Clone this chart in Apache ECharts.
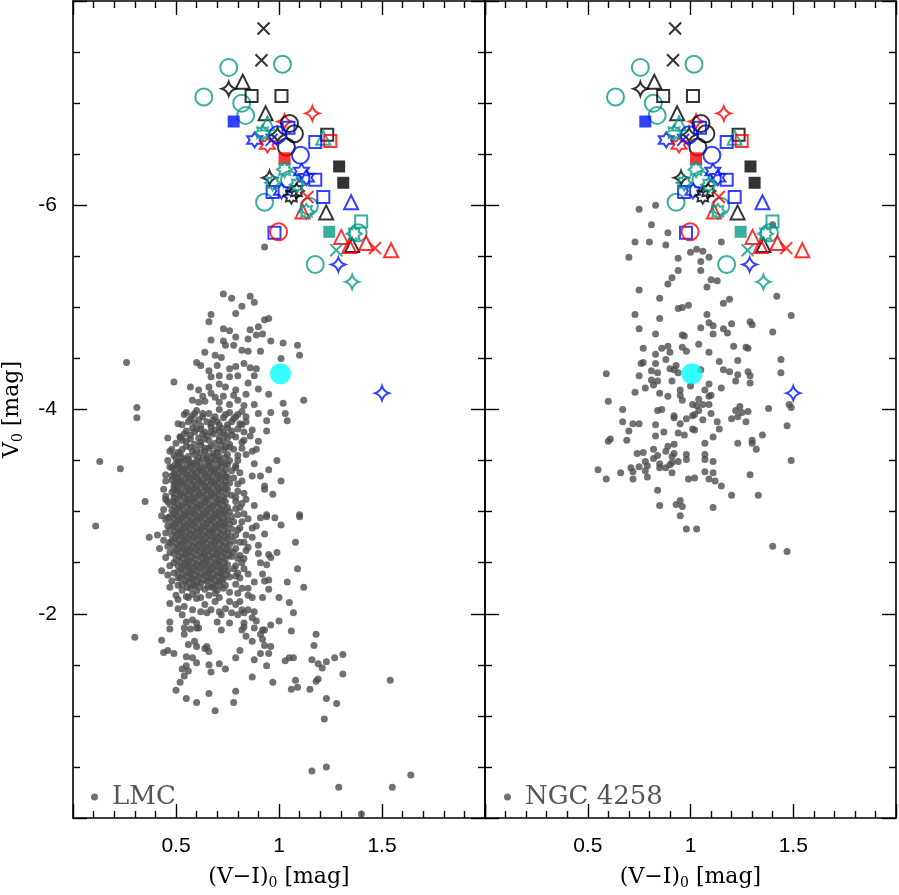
<!DOCTYPE html>
<html>
<head>
<meta charset="utf-8">
<script src="https://cdn.jsdelivr.net/npm/echarts@6/dist/echarts.min.js"></script>
<style>
  html, body { margin: 0; padding: 0; background: #fff; }
  #chart { width: 899px; height: 895px; }
</style>
</head>
<body>
<div id="chart"></div>
<script>
// tick labels
const xTickLabels = [0.5, 1, 1.5]
const yTickLabels = [-6, -4, -2]

// LMC stars, dense core of the cloud
const lmcCore = [
  [0.55,-3.97],[0.60,-3.99],[0.66,-3.96],[0.71,-4.00],[0.76,-3.97],[0.80,-3.95],
  [0.57,-3.91],[0.63,-3.93],[0.68,-3.90],[0.73,-3.92],[0.78,-3.91],[0.84,-3.93],
  [0.53,-3.85],[0.59,-3.87],[0.62,-3.84],[0.67,-3.86],[0.70,-3.88],[0.75,-3.85],[0.81,-3.86],
  [0.55,-3.79],[0.60,-3.81],[0.64,-3.78],[0.69,-3.80],[0.72,-3.82],[0.77,-3.79],[0.80,-3.81],
  [0.52,-3.73],[0.57,-3.75],[0.61,-3.72],[0.65,-3.74],[0.68,-3.76],[0.71,-3.73],[0.74,-3.75],[0.79,-3.73],
  [0.50,-3.67],[0.55,-3.69],[0.59,-3.66],[0.62,-3.68],[0.66,-3.70],[0.69,-3.67],[0.73,-3.69],[0.76,-3.66],[0.82,-3.68],
  [0.53,-3.61],[0.57,-3.63],[0.60,-3.60],[0.64,-3.62],[0.67,-3.64],[0.70,-3.61],[0.74,-3.63],[0.78,-3.61],
  [0.49,-3.55],[0.52,-3.57],[0.56,-3.54],[0.59,-3.56],[0.62,-3.58],[0.65,-3.55],[0.68,-3.57],[0.71,-3.54],[0.75,-3.56],[0.80,-3.55],
  [0.51,-3.49],[0.54,-3.51],[0.57,-3.48],[0.60,-3.50],[0.63,-3.52],[0.66,-3.49],[0.69,-3.51],[0.72,-3.48],[0.76,-3.50],
  [0.48,-3.43],[0.51,-3.45],[0.54,-3.42],[0.57,-3.44],[0.60,-3.46],[0.63,-3.43],[0.66,-3.45],[0.69,-3.42],[0.72,-3.44],[0.75,-3.46],[0.79,-3.43],
  [0.49,-3.37],[0.52,-3.39],[0.55,-3.36],[0.58,-3.38],[0.61,-3.40],[0.64,-3.37],[0.67,-3.39],[0.70,-3.36],[0.73,-3.38],[0.77,-3.40],
  [0.48,-3.31],[0.51,-3.33],[0.54,-3.30],[0.57,-3.32],[0.60,-3.34],[0.63,-3.31],[0.66,-3.33],[0.69,-3.30],[0.72,-3.32],[0.75,-3.34],
  [0.49,-3.25],[0.52,-3.27],[0.55,-3.24],[0.58,-3.26],[0.61,-3.28],[0.64,-3.25],[0.67,-3.27],[0.70,-3.24],[0.73,-3.26],[0.76,-3.28],
  [0.48,-3.19],[0.51,-3.21],[0.54,-3.18],[0.57,-3.20],[0.60,-3.22],[0.63,-3.19],[0.66,-3.21],[0.69,-3.18],[0.72,-3.20],[0.75,-3.22],
  [0.49,-3.13],[0.52,-3.15],[0.55,-3.12],[0.58,-3.14],[0.61,-3.16],[0.64,-3.13],[0.67,-3.15],[0.70,-3.12],[0.73,-3.14],[0.77,-3.16],
  [0.47,-3.07],[0.50,-3.09],[0.53,-3.06],[0.56,-3.08],[0.59,-3.10],[0.62,-3.07],[0.65,-3.09],[0.68,-3.06],[0.71,-3.08],[0.74,-3.10],
  [0.48,-3.01],[0.51,-3.03],[0.54,-3.00],[0.57,-3.02],[0.60,-3.04],[0.63,-3.01],[0.66,-3.03],[0.69,-3.00],[0.72,-3.02],[0.75,-3.04],
  [0.47,-2.95],[0.50,-2.97],[0.53,-2.94],[0.56,-2.96],[0.59,-2.98],[0.62,-2.95],[0.65,-2.97],[0.68,-2.94],[0.71,-2.96],[0.74,-2.98],[0.77,-2.95],
  [0.48,-2.89],[0.51,-2.91],[0.54,-2.88],[0.57,-2.90],[0.60,-2.92],[0.63,-2.89],[0.66,-2.91],[0.69,-2.88],[0.72,-2.90],[0.75,-2.92],
  [0.47,-2.83],[0.50,-2.85],[0.53,-2.82],[0.56,-2.84],[0.59,-2.86],[0.62,-2.83],[0.65,-2.85],[0.68,-2.82],[0.71,-2.84],[0.74,-2.86],[0.77,-2.83],
  [0.48,-2.77],[0.51,-2.79],[0.54,-2.76],[0.57,-2.78],[0.60,-2.80],[0.63,-2.77],[0.66,-2.79],[0.69,-2.76],[0.72,-2.78],[0.75,-2.80],
  [0.48,-2.71],[0.51,-2.73],[0.54,-2.70],[0.57,-2.72],[0.60,-2.74],[0.63,-2.71],[0.66,-2.73],[0.69,-2.70],[0.72,-2.72],[0.75,-2.74],[0.78,-2.71],
  [0.49,-2.65],[0.52,-2.67],[0.55,-2.64],[0.58,-2.66],[0.61,-2.68],[0.64,-2.65],[0.67,-2.67],[0.70,-2.64],[0.73,-2.66],[0.76,-2.68],
  [0.49,-2.59],[0.52,-2.61],[0.55,-2.58],[0.58,-2.60],[0.61,-2.62],[0.64,-2.59],[0.67,-2.61],[0.70,-2.58],[0.73,-2.60],[0.76,-2.62],
  [0.50,-2.53],[0.53,-2.55],[0.56,-2.52],[0.59,-2.54],[0.62,-2.56],[0.65,-2.53],[0.68,-2.55],[0.71,-2.52],[0.74,-2.54],[0.77,-2.56],
  [0.51,-2.47],[0.54,-2.49],[0.57,-2.46],[0.60,-2.48],[0.63,-2.50],[0.66,-2.47],[0.69,-2.49],[0.72,-2.46],[0.75,-2.48],
  [0.51,-2.41],[0.54,-2.43],[0.57,-2.40],[0.60,-2.42],[0.63,-2.44],[0.66,-2.41],[0.69,-2.43],[0.72,-2.40],[0.75,-2.42],
  [0.52,-2.35],[0.55,-2.37],[0.58,-2.34],[0.61,-2.36],[0.64,-2.38],[0.67,-2.35],[0.70,-2.37],[0.73,-2.34],[0.76,-2.36],
  [0.53,-2.29],[0.56,-2.31],[0.59,-2.28],[0.62,-2.30],[0.65,-2.32],[0.68,-2.29],[0.71,-2.31],[0.74,-2.28],
  [0.53,-2.23],[0.57,-2.25],[0.60,-2.22],[0.64,-2.24],[0.67,-2.26],[0.70,-2.23],[0.73,-2.25],
  [0.55,-2.17],[0.58,-2.19],[0.62,-2.16],[0.66,-2.18],[0.69,-2.20]
]

// LMC stars filling the gaps between the core rows
const lmcCoreFill = [
  [0.58,-3.94],[0.63,-3.96],[0.69,-3.93],[0.74,-3.95],[0.79,-3.93],
  [0.56,-3.88],[0.61,-3.90],[0.65,-3.88],[0.71,-3.85],[0.77,-3.88],
  [0.58,-3.82],[0.62,-3.81],[0.67,-3.83],[0.71,-3.79],[0.75,-3.82],
  [0.54,-3.76],[0.59,-3.78],[0.63,-3.76],[0.67,-3.78],[0.73,-3.77],[0.77,-3.75],
  [0.53,-3.70],[0.57,-3.71],[0.64,-3.71],[0.71,-3.70],[0.75,-3.72],
  [0.55,-3.64],[0.62,-3.65],[0.66,-3.62],[0.72,-3.65],[0.76,-3.63],
  [0.51,-3.58],[0.58,-3.59],[0.64,-3.59],[0.70,-3.58],[0.73,-3.60],
  [0.50,-3.52],[0.53,-3.53],[0.56,-3.51],[0.61,-3.53],[0.65,-3.52],[0.68,-3.54],[0.71,-3.51],[0.74,-3.53],
  [0.495,-3.46],[0.525,-3.48],[0.555,-3.46],[0.585,-3.47],[0.615,-3.48],[0.645,-3.46],[0.675,-3.48],[0.705,-3.46],[0.74,-3.47],
  [0.495,-3.40],[0.525,-3.42],[0.555,-3.40],[0.585,-3.41],[0.615,-3.42],[0.645,-3.40],[0.675,-3.42],[0.705,-3.40],[0.74,-3.41],
  [0.50,-3.34],[0.53,-3.36],[0.56,-3.34],[0.59,-3.35],[0.62,-3.36],[0.65,-3.34],[0.68,-3.36],[0.71,-3.34],[0.74,-3.35],
  [0.495,-3.28],[0.525,-3.30],[0.555,-3.28],[0.585,-3.29],[0.615,-3.30],[0.645,-3.28],[0.675,-3.30],[0.705,-3.28],[0.74,-3.29],
  [0.50,-3.22],[0.53,-3.24],[0.56,-3.22],[0.59,-3.23],[0.62,-3.24],[0.65,-3.22],[0.68,-3.24],[0.71,-3.22],[0.74,-3.23],
  [0.495,-3.16],[0.525,-3.18],[0.555,-3.16],[0.585,-3.17],[0.615,-3.18],[0.645,-3.16],[0.675,-3.18],[0.705,-3.16],[0.745,-3.17],
  [0.49,-3.10],[0.52,-3.12],[0.55,-3.10],[0.58,-3.11],[0.61,-3.12],[0.64,-3.10],[0.67,-3.12],[0.70,-3.10],[0.73,-3.11],
  [0.495,-3.04],[0.525,-3.06],[0.555,-3.04],[0.585,-3.05],[0.615,-3.06],[0.645,-3.04],[0.675,-3.06],[0.705,-3.04],[0.735,-3.05],
  [0.49,-2.98],[0.52,-3.00],[0.55,-2.98],[0.58,-2.99],[0.61,-3.00],[0.64,-2.98],[0.67,-3.00],[0.70,-2.98],[0.73,-2.99],[0.76,-3.00],
  [0.495,-2.92],[0.525,-2.94],[0.555,-2.92],[0.585,-2.93],[0.615,-2.94],[0.645,-2.92],[0.675,-2.94],[0.705,-2.92],[0.735,-2.93],
  [0.49,-2.86],[0.52,-2.88],[0.55,-2.86],[0.58,-2.87],[0.61,-2.88],[0.64,-2.86],[0.67,-2.88],[0.70,-2.86],[0.73,-2.87],[0.76,-2.88],
  [0.495,-2.80],[0.525,-2.82],[0.555,-2.80],[0.585,-2.81],[0.615,-2.82],[0.645,-2.80],[0.675,-2.82],[0.705,-2.80],[0.735,-2.81],
  [0.495,-2.74],[0.525,-2.76],[0.555,-2.74],[0.585,-2.75],[0.615,-2.76],[0.645,-2.74],[0.675,-2.76],[0.705,-2.74],[0.735,-2.75],[0.765,-2.76],
  [0.505,-2.68],[0.535,-2.70],[0.565,-2.68],[0.595,-2.69],[0.625,-2.70],[0.655,-2.68],[0.685,-2.70],[0.715,-2.68],[0.745,-2.69],
  [0.505,-2.62],[0.535,-2.64],[0.565,-2.62],[0.595,-2.63],[0.625,-2.64],[0.655,-2.62],[0.685,-2.64],[0.715,-2.62],[0.745,-2.63],
  [0.515,-2.56],[0.545,-2.58],[0.575,-2.56],[0.605,-2.57],[0.635,-2.58],[0.665,-2.56],[0.695,-2.58],[0.725,-2.56],[0.755,-2.57],
  [0.525,-2.50],[0.555,-2.52],[0.585,-2.50],[0.615,-2.51],[0.645,-2.52],[0.675,-2.50],[0.705,-2.52],[0.735,-2.50],
  [0.525,-2.44],[0.555,-2.46],[0.585,-2.44],[0.615,-2.45],[0.645,-2.46],[0.675,-2.44],[0.705,-2.46],[0.735,-2.44],
  [0.535,-2.38],[0.565,-2.40],[0.595,-2.38],[0.625,-2.39],[0.655,-2.40],[0.685,-2.38],[0.715,-2.40],[0.745,-2.38],
  [0.545,-2.32],[0.575,-2.34],[0.605,-2.32],[0.635,-2.33],[0.665,-2.34],[0.695,-2.32],[0.725,-2.34],
  [0.555,-2.26],[0.585,-2.28],[0.615,-2.26],[0.655,-2.27],[0.685,-2.26],[0.715,-2.28]
]

// LMC stars along the ragged edges of the core
const lmcCoreEdge = [
  [0.45,-3.30],[0.44,-3.22],[0.46,-3.10],[0.44,-3.02],[0.45,-2.92],[0.46,-2.86],[0.44,-2.72],[0.46,-2.66],
  [0.45,-2.55],[0.47,-2.47],[0.46,-2.38],[0.48,-2.32],[0.47,-3.44],[0.46,-3.50],
  [0.80,-3.20],[0.79,-3.14],[0.81,-3.04],[0.80,-2.97],[0.82,-2.90],[0.80,-2.82],[0.81,-2.70],[0.79,-2.64],
  [0.80,-2.54],[0.78,-2.44],[0.79,-2.37],[0.84,-3.12],[0.83,-2.98],[0.84,-2.62],[0.83,-2.44],[0.82,-3.30],
  [0.78,-3.33],[0.79,-3.45],[0.82,-3.62],[0.84,-3.88],[0.82,-3.98],[0.86,-3.74]
]

// LMC stars, scattered outside the core
const lmcOuter = [
  [0.73,-5.13],[0.77,-5.09],[0.86,-5.11],[0.88,-5.05],[0.82,-5.01],[0.67,-4.93],[0.79,-4.94],[0.66,-4.86],
  [0.93,-4.88],[0.95,-4.89],[0.73,-4.79],[0.76,-4.77],[0.90,-4.81],[0.86,-4.78],[0.89,-4.73],[0.92,-4.74],
  [0.79,-4.71],[0.85,-4.69],[0.67,-4.68],[0.73,-4.67],[0.96,-4.67],[1.02,-4.65],[1.09,-4.63],[1.10,-4.53],
  [1.01,-4.50],[0.74,-4.63],[0.78,-4.63],[0.82,-4.58],[0.85,-4.57],[0.91,-4.57],[0.64,-4.56],[0.69,-4.53],
  [0.72,-4.51],[0.60,-4.46],[0.62,-4.43],[0.26,-4.46],[0.83,-4.45],[0.86,-4.41],[0.89,-4.40],[0.76,-4.40],
  [0.79,-4.42],[0.70,-4.43],[0.66,-4.38],[0.88,-4.33],[0.67,-4.32],[0.71,-4.33],[0.76,-4.32],[0.80,-4.33],
  [0.49,-4.27],[0.85,-4.26],[0.90,-4.20],[0.57,-4.22],[0.61,-4.19],[0.66,-4.22],[0.71,-4.25],[0.74,-4.22],
  [0.79,-4.19],[0.84,-4.15],[0.95,-4.15],[1.12,-4.09],[1.02,-4.06],[0.58,-4.09],[0.61,-4.07],[0.64,-4.08],
  [0.69,-4.12],[0.71,-4.07],[0.76,-4.05],[0.80,-4.09],[0.83,-4.04],[0.88,-4.05],[0.90,-3.96],[0.96,-3.97],
  [1.03,-3.96],[1.04,-3.89],[0.94,-3.89],[0.94,-3.79],[0.31,-4.02],[0.31,-3.92],[0.54,-3.95],[0.51,-3.86],
  [0.59,-3.96],[0.67,-4.16],[0.73,-4.13],[0.63,-4.13],[0.78,-4.14],
  [0.46,-3.72],[0.52,-3.73],[0.47,-3.59],[0.48,-3.61],[0.51,-3.47],[0.90,-3.69],[0.87,-3.59],[0.83,-3.78],
  [0.82,-3.85],[0.99,-3.50],[0.95,-3.41],[1.01,-3.30],[0.97,-3.17],[0.93,-3.25],[0.87,-3.35],[0.88,-3.47],
  [0.45,-3.36],[0.45,-3.12],[0.35,-3.10],[0.13,-3.49],[0.23,-3.42],[1.10,-2.97],[0.83,-3.18],[0.82,-3.08],
  [0.79,-3.03],[0.88,-3.06],[0.94,-2.97],[0.48,-3.35],[0.51,-3.28],[0.49,-3.22],[0.45,-3.15],[0.83,-3.70],
  [0.87,-3.80],[0.89,-3.61],[0.91,-3.35],[0.93,-3.22],[0.80,-3.27],[0.81,-3.38],[0.80,-3.50],[0.84,-3.56],
  [0.11,-2.86],[0.37,-2.75],[0.41,-2.77],[0.42,-2.64],[0.43,-2.42],[0.47,-2.26],[0.47,-2.10],[0.47,-1.92],
  [0.47,-1.85],[0.30,-1.77],[0.43,-1.74],[0.44,-1.62],[0.46,-1.64],[0.49,-1.61],[0.50,-1.25],[0.55,-1.17],
  [0.60,-1.13],[0.66,-1.22],[0.69,-1.05],[0.78,-1.13],[0.79,-1.24],[0.87,-1.38],[0.52,-1.33],[0.54,-1.39],
  [0.53,-1.46],[0.55,-1.49],[0.56,-1.44],[0.55,-1.58],[0.58,-1.57],[0.60,-1.52],[0.66,-1.50],[0.67,-1.43],
  [0.71,-1.51],[0.74,-1.46],[0.79,-1.57],[0.81,-1.64],[0.88,-1.55],[0.94,-1.49],[0.95,-1.61],[0.91,-1.61],
  [0.93,-1.69],[0.96,-1.68],[0.92,-1.75],[0.91,-1.80],[0.93,-1.84],[0.96,-1.89],[1.00,-1.93],[0.97,-1.33],
  [1.06,-1.83],[1.03,-1.54],[1.05,-1.57],[1.07,-1.57],[1.06,-1.26],[1.08,-1.35],[1.09,-1.28],[1.15,-1.26],
  [1.18,-1.34],[1.19,-1.36],[1.16,-1.55],[1.19,-1.51],[1.21,-1.47],[1.23,-1.53],[1.27,-1.57],[1.31,-1.60],
  [1.31,-1.41],[1.17,-1.69],[1.18,-1.80],[1.23,-1.17],[1.28,-1.12],[1.22,-0.97],[1.54,-1.35],[1.07,-2.01],
  [1.05,-2.11],[1.00,-2.16],[1.12,-2.26],[1.09,-2.44],[1.04,-2.31],[1.08,-2.70],[1.10,-2.95],[1.01,-2.87],
  [0.98,-2.94],[0.94,-2.95],[0.91,-2.94],[0.89,-2.86],[0.93,-2.78],[0.87,-2.75],[0.99,-2.60],[0.96,-2.55],
  [0.95,-2.58],[0.94,-2.48],[0.90,-2.59],[0.90,-2.67],[0.91,-2.50],[0.95,-2.33],[0.93,-2.32],[0.92,-2.39],
  [0.95,-2.24],[0.92,-2.16],[0.88,-2.31],[0.85,-2.39],[0.85,-2.25],[0.87,-2.16],[0.85,-2.18],[0.88,-2.02],
  [0.85,-2.04],[0.89,-1.93],[0.87,-1.96],[0.92,-1.84],[0.88,-1.86],[0.83,-1.87],[0.82,-1.84],[0.84,-1.78],
  [0.87,-1.73],[0.83,-1.91],[0.83,-2.01],[0.80,-1.99],[0.76,-1.91],[0.72,-1.84],[0.70,-1.92],[0.72,-1.99],
  [0.65,-1.68],[0.66,-1.63],[0.64,-1.66],[0.60,-1.68],[0.59,-1.73],[0.56,-1.70],[0.54,-1.80],[0.57,-1.85],
  [0.60,-1.86],[0.61,-1.86],[0.54,-1.86],[0.55,-1.92],[0.58,-1.94],[0.60,-1.91],[0.53,-1.99],[0.51,-2.05],
  [0.54,-2.07],[0.58,-2.04],[0.62,-2.02],[0.65,-2.01],[0.67,-2.04],[0.71,-2.02],[0.74,-2.05],[0.77,-2.01],
  [0.79,-2.09],[0.81,-2.12],[0.82,-2.04],[0.51,-2.14],[0.56,-2.16],[0.60,-2.15],[0.64,-2.09],[0.69,-2.12],
  [0.71,-2.16],[0.76,-2.12],[0.76,-2.21],[0.80,-2.20],[0.79,-2.29],[0.82,-2.25],[0.81,-2.35],[0.80,-2.40],
  [0.79,-2.47],[0.82,-2.50],[0.81,-2.57],[0.83,-2.54],[0.85,-2.65],[0.83,-2.70],[0.84,-2.77],[0.81,-2.84],
  [0.85,-2.93],[0.87,-2.84],[0.43,-2.96],[0.46,-2.94],[0.45,-2.79],[0.47,-2.70],[0.47,-2.60],[0.49,-2.50],
  [0.49,-2.40],[0.51,-2.35],[0.51,-2.28],[0.50,-2.18],[0.78,-2.60],[0.79,-2.77],[0.78,-2.90],[0.79,-3.10],
  [1.16,-0.46],[1.23,-0.50],[1.29,-0.30],[1.40,-0.04],[1.55,-0.30],[1.64,-0.42],[0.93,-5.59]
]

// NGC 4258 stars
const ngcDots = [
  [0.75,-5.96],[0.83,-6.00],[0.81,-5.81],[0.89,-5.73],[0.73,-5.64],[0.80,-5.64],[0.88,-5.61],[1.15,-5.64],
  [0.70,-5.49],[1.00,-5.54],[1.03,-5.57],[1.06,-5.55],[0.94,-5.48],[1.05,-5.45],[1.09,-5.49],[0.94,-5.36],
  [1.05,-5.36],[1.40,-5.81],[0.91,-5.29],[0.89,-5.23],[1.10,-5.27],[1.13,-5.26],[1.08,-5.20],[0.75,-5.17],
  [0.85,-5.09],[1.42,-5.11],[1.19,-5.08],[1.16,-5.04],[0.94,-4.99],[0.96,-5.00],[0.99,-5.02],[0.73,-4.93],
  [0.85,-4.89],[1.08,-4.93],[1.09,-4.85],[1.05,-4.80],[1.11,-4.82],[1.20,-4.84],[1.29,-4.86],[1.30,-4.83],
  [1.49,-4.92],[0.75,-4.79],[0.83,-4.74],[0.96,-4.73],[0.97,-4.72],[1.11,-4.74],[1.16,-4.79],[1.18,-4.75],
  [1.40,-4.76],[0.89,-4.62],[0.86,-4.60],[0.96,-4.61],[0.98,-4.57],[1.04,-4.64],[1.09,-4.56],[1.21,-4.62],
  [1.27,-4.61],[1.28,-4.60],[0.77,-4.60],[0.83,-4.54],[0.90,-4.56],[0.76,-4.45],[0.77,-4.46],[0.83,-4.45],
  [0.88,-4.49],[0.93,-4.43],[0.92,-4.39],[0.94,-4.36],[1.14,-4.47],[1.23,-4.48],[1.44,-4.49],[1.44,-4.36],
  [0.59,-4.35],[0.75,-4.33],[0.81,-4.38],[0.84,-4.36],[0.81,-4.29],[0.84,-4.28],[0.90,-4.40],[1.05,-4.39],
  [1.09,-4.25],[1.16,-4.39],[1.19,-4.37],[1.23,-4.34],[1.28,-4.37],[1.29,-4.33],[1.29,-4.26],[1.22,-4.28],
  [1.15,-4.21],[0.73,-4.17],[0.78,-4.21],[0.82,-4.24],[0.85,-4.16],[0.89,-4.13],[0.91,-4.28],[0.95,-4.19],
  [0.95,-4.14],[0.96,-4.09],[1.00,-4.23],[1.07,-4.19],[1.09,-4.13],[1.10,-4.14],[1.04,-4.10],[1.06,-4.05],
  [1.03,-4.04],[1.01,-4.05],[0.60,-4.08],[0.67,-4.00],[0.84,-3.99],[0.86,-4.00],[0.92,-3.94],[1.01,-3.94],
  [1.04,-3.99],[1.09,-4.05],[1.10,-3.96],[1.22,-3.99],[1.24,-4.03],[1.25,-3.97],[1.28,-3.98],[1.20,-3.91],
  [1.23,-3.93],[1.27,-3.88],[1.38,-4.01],[1.48,-4.05],[1.49,-4.02],[1.47,-3.84],[0.67,-3.88],[0.72,-3.86],
  [0.75,-3.86],[0.83,-3.85],[0.92,-3.92],[0.95,-3.86],[0.98,-3.91],[1.01,-3.81],[1.06,-3.90],[1.02,-3.95],
  [1.13,-3.88],[1.14,-3.81],[0.70,-3.79],[0.83,-3.74],[0.87,-3.78],[0.94,-3.77],[0.97,-3.75],[1.02,-3.80],
  [1.11,-3.73],[0.61,-3.71],[0.60,-3.69],[1.23,-3.67],[1.30,-3.67],[1.30,-3.70],[1.35,-3.75],[1.32,-3.61],
  [0.74,-3.57],[0.77,-3.58],[0.78,-3.49],[0.82,-3.61],[0.84,-3.55],[0.89,-3.64],[0.92,-3.57],[0.92,-3.66],
  [0.98,-3.56],[1.07,-3.56],[1.07,-3.51],[1.11,-3.49],[0.85,-3.47],[0.90,-3.46],[0.94,-3.49],[0.71,-3.43],
  [0.75,-3.44],[0.79,-3.45],[0.55,-3.41],[0.66,-3.38],[1.49,-3.50],
  [0.69,-3.70],[1.07,-3.67],[0.88,-3.59],[0.91,-3.54],[0.98,-3.51],[0.59,-3.32],[0.72,-3.39],[0.78,-3.40],
  [0.79,-3.34],[0.72,-3.32],[0.82,-3.52],[0.85,-3.43],[0.88,-3.43],[0.91,-3.38],[0.91,-3.48],[0.84,-3.21],
  [0.85,-3.06],[0.93,-3.07],[0.95,-3.11],[0.96,-3.05],[0.95,-2.96],[0.98,-2.83],[1.03,-2.83],[0.99,-3.32],
  [1.02,-3.33],[1.07,-3.39],[1.09,-3.32],[1.11,-3.38],[1.12,-3.30],[1.15,-3.25],[1.11,-3.04],[1.20,-3.16],
  [1.29,-3.36],[1.33,-3.16],[1.40,-2.66],[1.47,-2.61]
]

// marked stars, shown in both panels
const blackCross = [[0.925,-7.73],[0.915,-7.42]]
const tealCircle = [[0.756,-7.35],[1.017,-7.38],[0.635,-7.06],[0.819,-7.00],[0.838,-6.88],[0.930,-6.03],[1.147,-5.99],[1.384,-5.73],[1.176,-5.42],[1.051,-6.25]]
const blackTriangle = [[0.824,-7.21],[0.935,-6.90],[1.229,-5.93],[1.355,-5.61]]
const blackAstroid = [[0.756,-7.14],[0.954,-6.27],[0.993,-6.69]]
const blackSquare = [[0.867,-7.07],[1.012,-7.07],[1.234,-6.69]]
const blueSquareFilled = [[0.780,-6.82]]
const redAstroid = [[1.162,-6.90],[1.027,-6.82]]
const tealTriangle = [[0.944,-6.80],[1.215,-6.66]]
const blackCircle = [[1.051,-6.80],[1.075,-6.70],[1.036,-6.57]]
const blueSquare = [[1.046,-6.76],[1.176,-6.62],[1.176,-6.25],[0.969,-6.13],[1.215,-6.08],[0.978,-5.73]]
const tealBurst = [[0.920,-6.71],[1.027,-6.35],[1.089,-6.20],[0.969,-6.22],[1.133,-5.94],[1.365,-5.72]]
const blueHexagram = [[0.882,-6.64],[1.109,-6.33],[1.133,-6.27],[1.012,-6.14]]
const blueCircle = [[0.993,-6.69],[1.104,-6.49]]
const redHexagram = [[0.944,-6.59]]
const redSquare = [[1.249,-6.63]]
const redSquareFilled = [[1.027,-6.46]]
const blackSquareFilled = [[1.292,-6.38],[1.312,-6.22]]
const blackBurst = [[1.060,-6.09],[1.085,-6.14]]
const redCross = [[1.138,-6.08],[1.466,-5.58]]
const blueCross = [[0.964,-6.64]]
const blueTriangle = [[1.350,-6.03]]
const redTriangle = [[1.114,-5.94],[1.302,-5.69],[1.341,-5.60],[1.423,-5.63],[1.544,-5.56]]
const tealSquare = [[1.399,-5.84]]
const tealSquareFilled = [[1.244,-5.74]]
const redCircle = [[0.998,-5.74]]
const tealCross = [[1.278,-5.56]]
const blueAstroid = [[1.288,-5.42],[1.500,-4.16]]
const tealAstroid = [[1.355,-5.25]]
const cyanDot = [[1.007,-4.35]]

const BLACK = '#000000', TEAL = '#069a87', BLUE = '#0010ff', RED = '#ff0000'

const shapes = {
  cross:   { symbol: 'path://M0,0L10,10M10,0L0,10', size: 12 },
  circle:  { symbol: 'circle', size: 17 },
  triangle:{ symbol: 'triangle', size: 14 },
  square:  { symbol: 'rect', size: 12 },
  astroid: { symbol: 'path://M10,0Q12.4,7.6 20,10Q12.4,12.4 10,20Q7.6,12.4 0,10Q7.6,7.6 10,0Z', size: 14 },
  hexagram:{ symbol: 'path://M10,0L12.89,5L18.66,5L15.77,10L18.66,15L12.89,15L10,20L7.11,15L1.34,15L4.23,10L1.34,5L7.11,5Z', size: 15 },
  burst:   { symbol: 'path://M20,10L16,12.5L17.07,17.07L12.5,16L10,20L7.5,16L2.93,17.07L4,12.5L0,10L4,7.5L2.93,2.93L7.5,4L10,0L12.5,4L17.07,2.93L16,7.5Z', size: 15 }
}

const markers = [
  [blackCross, 'cross', BLACK, false],
  [tealCircle, 'circle', TEAL, false],
  [blackTriangle, 'triangle', BLACK, false],
  [blackAstroid, 'astroid', BLACK, false],
  [blackSquare, 'square', BLACK, false],
  [blueSquareFilled, 'square', BLUE, true],
  [redAstroid, 'astroid', RED, false],
  [tealTriangle, 'triangle', TEAL, false],
  [blackCircle, 'circle', BLACK, false],
  [blueSquare, 'square', BLUE, false],
  [blueHexagram, 'hexagram', BLUE, false],
  [blueCircle, 'circle', BLUE, false],
  [redHexagram, 'hexagram', RED, false],
  [redSquare, 'square', RED, false],
  [redSquareFilled, 'square', RED, true],
  [blackSquareFilled, 'square', BLACK, true],
  [blackBurst, 'burst', BLACK, false],
  [redCross, 'cross', RED, false],
  [blueCross, 'cross', BLUE, false],
  [blueTriangle, 'triangle', BLUE, false],
  [redTriangle, 'triangle', RED, false],
  [tealSquare, 'square', TEAL, false],
  [tealSquareFilled, 'square', TEAL, true],
  [redCircle, 'circle', RED, false],
  [tealCross, 'cross', TEAL, false],
  [blueAstroid, 'astroid', BLUE, false],
  [tealAstroid, 'astroid', TEAL, false],
  [tealBurst, 'burst', TEAL, false]
]

const tickFont = 'Liberation Sans'
const serif = 'DejaVu Serif'

function xAxis(grid, pos, withLabels) {
  return {
    type: 'value', gridIndex: grid, position: pos, min: 0, max: 2, interval: 0.5,
    axisLine: { show: true, onZero: false, lineStyle: { color: '#000', width: 1.6 } },
    axisTick: { show: true, inside: true, length: 14, lineStyle: { color: '#000', width: 1.4 } },
    minorTick: { show: true, splitNumber: 5, length: 7, lineStyle: { color: '#000', width: 1.4 } },
    splitLine: { show: false },
    axisLabel: {
      show: withLabels, margin: 18, fontSize: 21, color: '#000', fontFamily: tickFont,
      formatter: v => xTickLabels.indexOf(v) >= 0 ? String(v) : ''
    },
    name: withLabels ? '{a|(V\u2212I)}{s|0}{a| [mag]}' : '',
    nameLocation: 'middle', nameGap: 46,
    nameTextStyle: {
      rich: {
        a: { fontFamily: serif, fontSize: 22, color: '#000' },
        s: { fontFamily: serif, fontSize: 14, color: '#000', padding: [12, 0, 0, 0] }
      }
    }
  }
}

function yAxis(grid, pos, withLabels, withName) {
  return {
    type: 'value', gridIndex: grid, position: pos, min: -8, max: 0, interval: 2, inverse: true,
    axisLine: { show: true, onZero: false, lineStyle: { color: '#000', width: 1.6 } },
    axisTick: { show: true, inside: true, length: 14, lineStyle: { color: '#000', width: 1.4 } },
    minorTick: { show: true, splitNumber: 4, length: 7, lineStyle: { color: '#000', width: 1.4 } },
    splitLine: { show: false },
    axisLabel: {
      show: withLabels, margin: 16, fontSize: 21, color: '#000', fontFamily: tickFont,
      formatter: v => yTickLabels.indexOf(v) >= 0 ? String(v) : ''
    },
    name: withName ? '{a|V}{s|0}{a| [mag]}' : '',
    nameLocation: 'middle', nameGap: 48, nameRotate: 90,
    nameTextStyle: {
      rich: {
        a: { fontFamily: serif, fontSize: 22, color: '#000' },
        s: { fontFamily: serif, fontSize: 14, color: '#000', padding: [12, 0, 0, 0] }
      }
    }
  }
}

const series = [
  {
    name: 'LMC', type: 'scatter', xAxisIndex: 0, yAxisIndex: 0,
    data: lmcCore.concat(lmcCoreFill, lmcCoreEdge, lmcOuter), symbolSize: 7,
    itemStyle: { color: '#4d4d4d' }, z: 1, silent: true
  },
  {
    name: 'NGC 4258', type: 'scatter', xAxisIndex: 1, yAxisIndex: 2,
    data: ngcDots, symbolSize: 7,
    itemStyle: { color: '#4d4d4d' }, z: 1, silent: true
  }
]

for (let p = 0; p < 2; p++) {
  for (const [data, shape, color, filled] of markers) {
    series.push({
      type: 'scatter', xAxisIndex: p, yAxisIndex: p * 2, data: data,
      symbol: shapes[shape].symbol, symbolSize: shapes[shape].size,
      itemStyle: filled
        ? { color: color, borderWidth: 0 }
        : { color: 'rgba(0,0,0,0)', borderColor: color, borderWidth: 2 },
      z: 3, silent: true
    })
  }
  series.push({
    type: 'scatter', xAxisIndex: p, yAxisIndex: p * 2, data: cyanDot,
    symbol: 'circle', symbolSize: 21, itemStyle: { color: '#00ffff' }, z: 4, silent: true
  })
}

const legendText = { fontFamily: serif, fontSize: 26, color: '#555', padding: [0, 0, 0, 9] }

const option = {
  animation: false,
  backgroundColor: '#fff',
  grid: [
    { left: 72, top: 1, width: 413, height: 824 },
    { left: 485, top: 1, width: 413, height: 824 }
  ],
  xAxis: [xAxis(0, 'bottom', true), xAxis(1, 'bottom', true), xAxis(0, 'top', false), xAxis(1, 'top', false)],
  yAxis: [yAxis(0, 'left', true, true), yAxis(0, 'right', false, false), yAxis(1, 'left', false, false), yAxis(1, 'right', false, false)],
  legend: [
    { data: ['LMC'], left: 86, top: 779, icon: 'circle', itemWidth: 7, itemHeight: 7, selectedMode: false, textStyle: legendText },
    { data: ['NGC 4258'], left: 499, top: 779, icon: 'circle', itemWidth: 7, itemHeight: 7, selectedMode: false, textStyle: legendText }
  ],
  series: series
}

const myChart = echarts.init(document.getElementById('chart'))
myChart.setOption(option)
</script>
</body>
</html>
